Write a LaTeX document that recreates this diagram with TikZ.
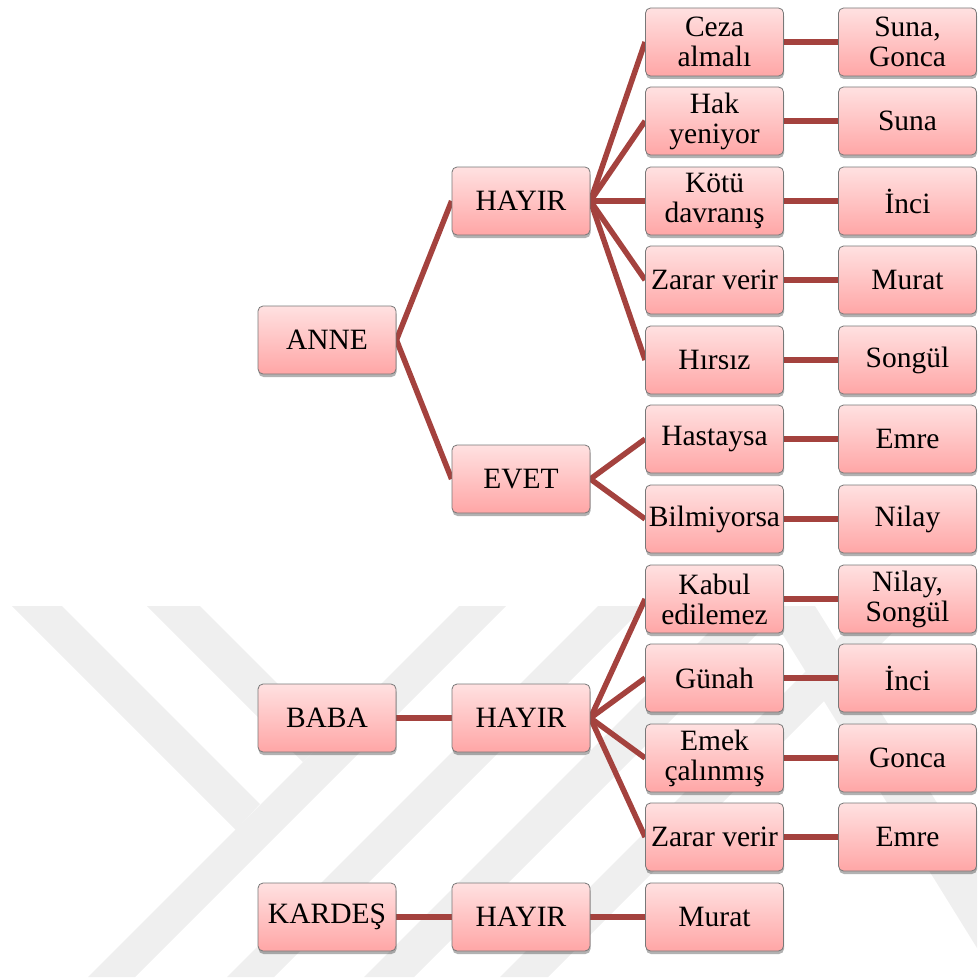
\documentclass[tikz,border=0pt]{standalone}
\usepackage{fontspec}
\setmainfont{Liberation Serif}
\usetikzlibrary{shadows}
\pgfdeclarelayer{bg}
\pgfsetlayers{bg,main}
\definecolor{boxtop}{RGB}{255,225,225}
\definecolor{boxbot}{RGB}{255,166,166}
\definecolor{boxline}{RGB}{120,120,120}
\definecolor{linec}{RGB}{164,66,62}
\definecolor{wm}{RGB}{239,239,239}
\begin{document}
\begin{tikzpicture}[x=1pt,y=-1pt,
  box/.style={rectangle, rounded corners=5pt, draw=boxline, line width=0.8pt,
    top color=boxtop, bottom color=boxbot, minimum width=138pt, minimum height=68pt,
    inner sep=0pt, align=center, font=\fontsize{29.5}{30}\selectfont,
    drop shadow={shadow xshift=0.5pt, shadow yshift=-3pt, opacity=0.3, fill=black}},
  conn/.style={draw=linec, line width=5.5pt},
  wmark/.style={fill=wm}]
\useasboundingbox (0,0) rectangle (977,979);
% watermark
\begin{pgfonlayer}{bg}
\begin{scope}
\clip (0,606) rectangle (977,977);
\fill[wmark] (88,977) -- (135,977) -- (535,577) -- (488,577) -- cycle;
\fill[wmark] (227,977) -- (274,977) -- (674,577) -- (627,577) -- cycle;
\fill[wmark] (364,977) -- (414,977) -- (814,577) -- (764,577) -- cycle;
\fill[wmark] (500,977) -- (548,977) -- (948,577) -- (900,577) -- cycle;
\fill[wmark] (12,606) -- (62,606) -- (260,804) -- (236,830) -- cycle;
\fill[wmark] (147,606) -- (200,606) -- (329.5,735.5) -- (303,762) -- cycle;
\fill[wmark] (765,606) -- (815,606) -- (1045,977) -- (995,977) -- cycle;
\end{scope}
\end{pgfonlayer}
% nodes
\node[box] (anne) at (327,340) {ANNE};
\node[box] (ah) at (521,201) {HAYIR};
\node[box] (ae) at (521,479) {EVET};
\node[box] (a1) at (714.5,42) {Ceza\\almalı};
\node[box] (a2) at (714.5,121) {Hak\\yeniyor};
\node[box] (a3) at (714.5,201) {Kötü\\davranış};
\node[box] (a4) at (714.5,280) {Zarar verir};
\node[box] (a5) at (714.5,360) {Hırsız};
\node[box] (a6) at (714.5,439) {Hastaysa};
\node[box] (a7) at (714.5,519) {Bilmiyorsa};
\node[box] (n1) at (907.5,42) {Suna,\\Gonca};
\node[box] (n2) at (907.5,121) {Suna};
\node[box] (n3) at (907.5,201) {İnci};
\node[box] (n4) at (907.5,280) {Murat};
\node[box] (n5) at (907.5,360) {Songül};
\node[box] (n6) at (907.5,439) {Emre};
\node[box] (n7) at (907.5,519) {Nilay};
\node[box] (baba) at (327,718) {BABA};
\node[box] (bh) at (521,718) {HAYIR};
\node[box] (b1) at (714.5,599) {Kabul\\edilemez};
\node[box] (b2) at (714.5,678) {Günah};
\node[box] (b3) at (714.5,758) {Emek\\çalınmış};
\node[box] (b4) at (714.5,837) {Zarar verir};
\node[box] (m1) at (907.5,599) {Nilay,\\Songül};
\node[box] (m2) at (907.5,678) {İnci};
\node[box] (m3) at (907.5,758) {Gonca};
\node[box] (m4) at (907.5,837) {Emre};
\node[box] (kardes) at (327,917) {KARDEŞ};
\node[box] (kh) at (521,917) {HAYIR};
\node[box] (k1) at (714.5,917) {Murat};
% connectors
\begin{pgfonlayer}{bg}
\draw[conn] (anne.east) -- (ah.west);
\draw[conn] (anne.east) -- (ae.west);
\foreach \c in {a1,a2,a3,a4,a5} \draw[conn] (ah.east) -- (\c.west);
\foreach \c in {a6,a7} \draw[conn] (ae.east) -- (\c.west);
\draw[conn] (a1.east) -- (n1.west);
\draw[conn] (a2.east) -- (n2.west);
\draw[conn] (a3.east) -- (n3.west);
\draw[conn] (a4.east) -- (n4.west);
\draw[conn] (a5.east) -- (n5.west);
\draw[conn] (a6.east) -- (n6.west);
\draw[conn] (a7.east) -- (n7.west);
\draw[conn] (baba.east) -- (bh.west);
\foreach \c in {b1,b2,b3,b4} \draw[conn] (bh.east) -- (\c.west);
\draw[conn] (b1.east) -- (m1.west);
\draw[conn] (b2.east) -- (m2.west);
\draw[conn] (b3.east) -- (m3.west);
\draw[conn] (b4.east) -- (m4.west);
\draw[conn] (kardes.east) -- (kh.west);
\draw[conn] (kh.east) -- (k1.west);
\end{pgfonlayer}
\end{tikzpicture}
\end{document}
